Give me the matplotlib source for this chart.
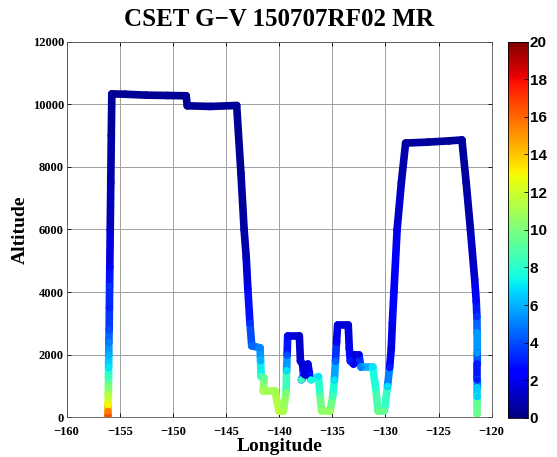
import numpy as np
import matplotlib
matplotlib.use("Agg")
import matplotlib.pyplot as plt
from matplotlib.collections import LineCollection

# flight track: longitude, altitude (m) and water vapour mixing ratio (g/kg)
lon = [-156.1, -156.1, -156.1, -156.08, -156.07, -156.06, -156.05, -156.04,
       -156.03, -156.0, -155.98, -155.96, -155.94, -155.9, -155.85, -155.8,
       -155.75, -154.5, -152.5, -150.5, -148.75, -148.65, -146.5, -144.0,
       -143.6, -143.3, -143.1, -142.95, -142.75, -142.58,
       -141.8, -141.75, -141.7, -141.4, -141.5, -140.4, -140.2, -140.0,
       -139.6, -139.35, -139.3, -139.25, -139.2, -138.1, -138.0, -137.8,
       -137.7, -137.9, -137.6, -137.3, -137.1, -137.0, -136.3, -136.15,
       -136.0, -135.2, -134.95, -134.8, -134.7, -134.6, -134.5, -133.5,
       -133.4, -133.3, -133.0, -132.9, -132.5, -132.3, -131.2, -130.9,
       -130.7, -130.1, -129.8, -129.6, -129.45, -129.35, -129.2, -128.9,
       -128.5, -128.1, -126.0, -124.0, -122.8, -122.4, -122.0, -121.6,
       -121.45, -121.39, -121.37, -121.36, -121.35, -121.35, -121.34, -121.34,
       -121.34, -121.34]
alt = [50, 200, 400, 700, 1000, 1300, 1600, 2000,
       2400, 2800, 3500, 4200, 4800, 6000, 7500, 9000,
       10330, 10320, 10290, 10280, 10270, 9950, 9930, 9960,
       7800, 6000, 5100, 4100, 3000, 2280,
       2220, 1800, 1300, 1250, 850, 850, 500, 200,
       200, 800, 1500, 2000, 2600, 2600, 1800, 1700,
       1350, 1200, 1350, 1700, 1300, 1200, 1300, 700,
       200, 200, 700, 1200, 1800, 2400, 2950, 2950,
       2200, 1800, 1700, 2000, 2000, 1600, 1600, 900,
       200, 200, 1000, 1600, 2200, 3000, 4000, 6000,
       7500, 8760, 8790, 8830, 8860, 7500, 6000, 4400,
       3700, 3200, 2700, 2050, 1700, 1200, 950, 650,
       450, 100]
mr = [16.5, 15.5, 13, 11.5, 10, 8.5, 7, 6,
      5, 4, 3.2, 3.5, 2.2, 1.2, 0.9, 0.6,
      0.4, 0.4, 0.4, 0.4, 0.4, 0.4, 0.4, 0.4,
      0.5, 0.7, 1.0, 2.0, 3.5, 4.5,
      5.0, 6.0, 8.5, 9.5, 11, 11, 11.3, 11.5,
      11.2, 10, 7, 4, 1.8, 1.2, 1.5, 1.5,
      2, 8.5, 1.5, 1.5, 2.5, 7.5, 7.0, 9,
      10.5, 10.8, 8.5, 7, 4.5, 2.5, 1.5, 1.5,
      2, 3, 2, 1.5, 1.8, 5, 7, 8,
      9.5, 9.5, 7, 3, 1.5, 2, 2.5, 1.8,
      1.0, 0.6, 0.5, 0.5, 0.5, 0.6, 0.9, 1.5,
      2.5, 3.5, 5.5, 5.5, 3, 3, 6.5, 6.5,
      9.5, 9.5]

lon = np.array(lon)
alt = np.array(alt)
mr = np.array(mr)

fig = plt.figure(figsize=(5.57, 4.57), dpi=100)
ax = fig.add_axes([0.1197, 0.0869, 0.763, 0.822])
cax = fig.add_axes([0.9115, 0.0855, 0.037, 0.8235])

cmap = plt.get_cmap("jet")
norm = plt.Normalize(0, 20)

pts = np.column_stack([lon, alt]).reshape(-1, 1, 2)
segs = np.concatenate([pts[:-1], pts[1:]], axis=1)
lc = LineCollection(segs, cmap=cmap, norm=norm, linewidth=5.5,
                    capstyle="round", joinstyle="round", zorder=3)
lc.set_array((mr[:-1] + mr[1:]) / 2)
ax.add_collection(lc)
ax.scatter(lon, alt, c=mr, cmap=cmap, norm=norm, s=24, lw=0, zorder=4)

ax.set_xlim(-160, -120)
ax.set_ylim(0, 12000)
ax.set_xticks(np.arange(-160, -119, 5))
ax.set_yticks(np.arange(0, 12001, 2000))
ax.grid(True, color="#a0a0a0", lw=0.7)
ax.set_axisbelow(True)
ax.tick_params(direction="in", top=True, right=True, length=3, width=0.6, pad=2)
ax.tick_params(axis="x", pad=6)
for lab in ax.get_xticklabels() + ax.get_yticklabels():
    lab.set_fontfamily("Liberation Serif")
    lab.set_fontweight("bold")
    lab.set_fontsize(9)
for s in ax.spines.values():
    s.set_linewidth(0.6)
    s.set_color("#555555")

ax.set_xlabel("Longitude", fontfamily="Liberation Serif", fontweight="bold",
              fontsize=14, labelpad=0)
ax.set_ylabel("Altitude", fontfamily="Liberation Serif", fontweight="bold",
              fontsize=14, labelpad=3)
fig.suptitle("CSET G\u2212V 150707RF02 MR", fontfamily="Liberation Serif",
             fontweight="bold", fontsize=18, y=0.983)

sm = plt.cm.ScalarMappable(cmap=cmap, norm=norm)
cb = fig.colorbar(sm, cax=cax, ticks=np.arange(0, 21, 2))
cb.outline.set_linewidth(0.6)
cax.tick_params(direction="in", length=3, width=0.6, labelsize=11, pad=1)
for lab in cax.get_yticklabels():
    lab.set_fontfamily("Liberation Sans")
    lab.set_fontweight("bold")

fig.savefig("out.png", dpi=100)
